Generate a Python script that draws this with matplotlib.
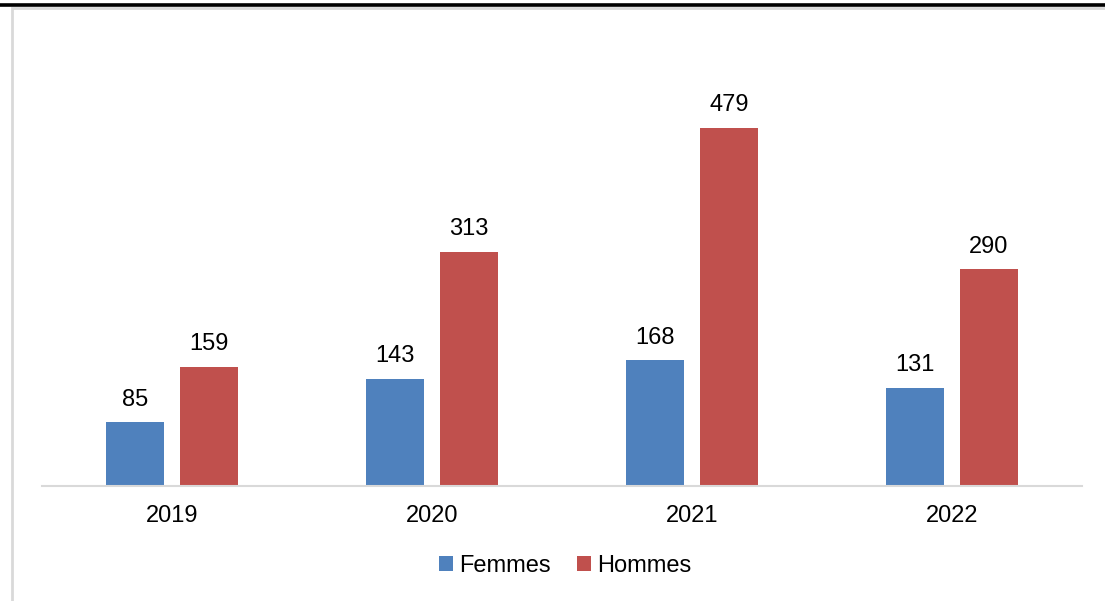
import matplotlib.pyplot as plt
import numpy as np
from matplotlib.patches import Rectangle
from matplotlib.lines import Line2D

years = ["2019", "2020", "2021", "2022"]
femmes = [85, 143, 168, 131]
hommes = [159, 313, 479, 290]

blue = "#4f81bd"
red = "#c0504d"

plt.rcParams["font.family"] = ["Liberation Sans", "DejaVu Sans"]

fig = plt.figure(figsize=(11.05, 6.01), dpi=100)

# outer frame of the chart + black rule at the top
fig.patches.append(Rectangle((12 / 1105, -0.1), 1.2, 1 - 8 / 601 + 0.1,
                             transform=fig.transFigure, fill=False,
                             edgecolor="#d9d9d9", linewidth=2))
fig.lines.append(Line2D([0, 1], [1 - 5 / 601, 1 - 5 / 601],
                        transform=fig.transFigure, color="black", linewidth=2.6))

ax = fig.add_axes([42 / 1105, 1 - 486 / 601, 1040 / 1105, 456 / 601])

x = np.arange(len(years))
w = 0.223
off = 0.142
b1 = ax.bar(x - off, femmes, w, color=blue, label="Femmes")
b2 = ax.bar(x + off, hommes, w, color=red, label="Hommes")

for bars, vals in ((b1, femmes), (b2, hommes)):
    for b, v in zip(bars, vals):
        ax.annotate(str(v), (b.get_x() + b.get_width() / 2, v),
                    xytext=(0, 12), textcoords="offset points",
                    ha="center", va="baseline", fontsize=17)

ax.set_xlim(-0.5, 3.5)
ax.set_ylim(0, 610)
ax.set_xticks(x)
ax.set_xticklabels(years, fontsize=17)
ax.tick_params(axis="x", length=0, pad=14)
ax.set_yticks([])
for s in ("top", "right", "left"):
    ax.spines[s].set_visible(False)
ax.spines["bottom"].set_color("#d9d9d9")
ax.spines["bottom"].set_linewidth(1.5)

fig.legend(loc="center", bbox_to_anchor=(565 / 1105, 1 - 566 / 601), ncol=2,
           frameon=False, fontsize=17, handlelength=0.6, handleheight=0.6,
           handletextpad=0.25, columnspacing=1.1)

fig.savefig("out.png", dpi=100)
